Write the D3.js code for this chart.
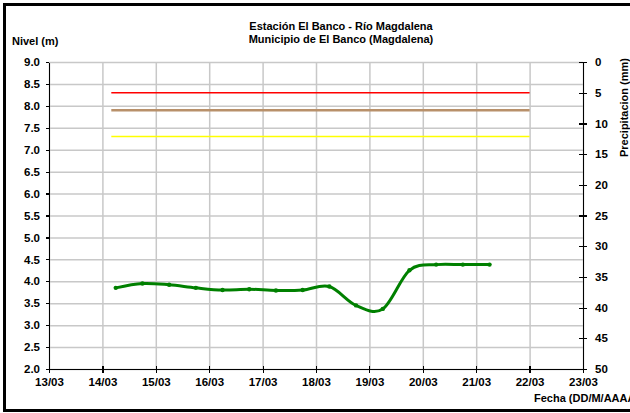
<!DOCTYPE html>
<html lang="es">
<head>
	<meta charset="UTF-8">
	<title>Estación El Banco</title>
	<script src="https://d3js.org/d3.v7.min.js"></script>
	<style>
		body { margin: 0; background: #fff; }
		svg { display: block; font-family: "Liberation Sans", Arial, sans-serif; font-weight: bold; }
		.axis path, .axis line { fill: none; stroke: #000; stroke-width: 1.2; shape-rendering: crispEdges; }
		.axis text { font-size: 11.5px; font-weight: bold; fill: #000; font-family: "Liberation Sans", Arial, sans-serif; }
		.grid line { stroke: #c8c8c8; stroke-width: 1.5; }
		.grid path { display: none; }
	</style>
</head>
<body>
<script>
	// nivel del río, cada 12 horas
	var fechas = ["2024-03-14T06:00", "2024-03-14T18:00", "2024-03-15T06:00", "2024-03-15T18:00",
		"2024-03-16T06:00", "2024-03-16T18:00", "2024-03-17T06:00", "2024-03-17T18:00",
		"2024-03-18T06:00", "2024-03-18T18:00", "2024-03-19T06:00", "2024-03-19T18:00",
		"2024-03-20T06:00", "2024-03-20T18:00", "2024-03-21T06:00"];
	var nivel = [3.85, 3.95, 3.92, 3.85, 3.80, 3.82, 3.79, 3.80, 3.88, 3.45, 3.37, 4.25, 4.38, 4.38, 4.38];

	// niveles de referencia
	var umbralNombres = ["rojo", "naranja", "amarillo"];
	var umbralValores = [8.3, 7.9, 7.3];
	var umbralColores = ["#ff0000", "#b8906a", "#ffff00"];
	var umbralAnchos = [1.5, 2.5, 1.5];
	var umbralInicio = "2024-03-14T04:00";
	var umbralFin = "2024-03-22T00:00";

	var nivelTicks = d3.range(2, 9.01, 0.5);
	var precipTicks = d3.range(0, 51, 5);

	var w = 630, h = 413;
	var margin = {top: 62, right: 47, bottom: 44, left: 49};
	var width = w - margin.left - margin.right,
		height = h - margin.top - margin.bottom;

	var parse = d3.timeParse("%Y-%m-%dT%H:%M");
	var datos = fechas.map(function (f, i) { return {fecha: parse(f), nivel: nivel[i]}; });

	var x = d3.scaleTime()
		.domain([new Date(2024, 2, 13), new Date(2024, 2, 23)])
		.range([0, width]);
	var y = d3.scaleLinear().domain([2, 9]).range([height, 0]);
	var y2 = d3.scaleLinear().domain([0, 50]).range([0, height]);

	var svg = d3.select('body').append('svg')
		.attr('width', w)
		.attr('height', h);

	// marco
	svg.append('rect')
		.attr('x', 4.5).attr('y', 4.5)
		.attr('width', w).attr('height', h - 7)
		.attr('fill', 'none')
		.attr('stroke', '#000')
		.attr('stroke-width', 3);

	var g = svg.append('g')
		.attr('transform', 'translate(' + margin.left + ',' + margin.top + ')');

	// rejilla
	g.append('g').attr('class', 'grid')
		.call(d3.axisLeft(y).tickValues(nivelTicks).tickSize(-width).tickFormat(''));
	g.append('g').attr('class', 'grid')
		.attr('transform', 'translate(0,' + height + ')')
		.call(d3.axisBottom(x).ticks(d3.timeDay.every(1)).tickSize(-height).tickFormat(''));

	// umbrales
	umbralValores.forEach(function (v, i) {
		g.append('line')
			.attr('class', 'umbral ' + umbralNombres[i])
			.attr('x1', x(parse(umbralInicio)))
			.attr('x2', x(parse(umbralFin)))
			.attr('y1', y(v)).attr('y2', y(v))
			.attr('stroke', umbralColores[i])
			.attr('stroke-width', umbralAnchos[i]);
	});

	// ejes
	var ejeX = g.append('g').attr('class', 'axis')
		.attr('transform', 'translate(0,' + height + ')')
		.call(d3.axisBottom(x).ticks(d3.timeDay.every(1)).tickFormat(d3.timeFormat('%d/%m'))
			.tickSizeInner(4).tickSizeOuter(0).tickPadding(5));
	ejeX.selectAll('.tick line').attr('y1', -3);

	g.append('g').attr('class', 'axis')
		.call(d3.axisLeft(y).tickValues(nivelTicks).tickFormat(d3.format('.1f'))
			.tickSizeInner(3).tickSizeOuter(0).tickPadding(6));

	var ejeY2 = g.append('g').attr('class', 'axis')
		.attr('transform', 'translate(' + width + ',0)')
		.call(d3.axisRight(y2).tickValues(precipTicks)
			.tickSizeInner(4).tickSizeOuter(0).tickPadding(8));
	ejeY2.selectAll('.tick line').attr('x1', -4);

	// serie de nivel
	var linea = d3.line()
		.x(function (d) { return x(d.fecha); })
		.y(function (d) { return y(d.nivel); })
		.curve(d3.curveCardinal.tension(0));

	g.append('path')
		.datum(datos)
		.attr('fill', 'none')
		.attr('stroke', '#008000')
		.attr('stroke-width', 3)
		.attr('d', linea);

	g.selectAll('circle.punto')
		.data(datos)
		.enter().append('circle')
		.attr('class', 'punto')
		.attr('cx', function (d) { return x(d.fecha); })
		.attr('cy', function (d) { return y(d.nivel); })
		.attr('r', 2.2)
		.attr('fill', '#008000');

	// textos
	svg.append('text')
		.attr('x', 341).attr('y', 30)
		.attr('text-anchor', 'middle')
		.attr('font-size', '11px')
		.text('Estación El Banco - Río Magdalena');
	svg.append('text')
		.attr('x', 341).attr('y', 43)
		.attr('text-anchor', 'middle')
		.attr('font-size', '11px')
		.text('Municipio de El Banco (Magdalena)');
	svg.append('text')
		.attr('x', 12).attr('y', 45)
		.attr('font-size', '11px')
		.text('Nivel (m)');
	svg.append('text')
		.attr('transform', 'translate(628,58) rotate(-90)')
		.attr('text-anchor', 'end')
		.attr('font-size', '11px')
		.text('Precipitacion (mm)');
	svg.append('text')
		.attr('x', 534).attr('y', 402)
		.attr('font-size', '11px')
		.text('Fecha (DD/M/AAAA)');
</script>
</body>
</html>
